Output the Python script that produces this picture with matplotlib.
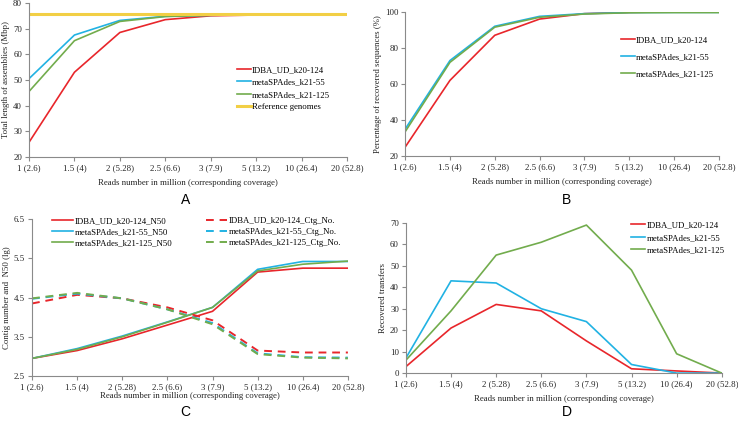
import numpy as np
import matplotlib
matplotlib.use('Agg')
import matplotlib.pyplot as plt

plt.rcParams['font.family'] = ['Liberation Serif', 'DejaVu Serif']
plt.rcParams['font.size'] = 6.3

# x categories (reads in million, coverage)
categories = ['1 (2.6)', '1.5 (4)', '2 (5.28)', '2.5 (6.6)', '3 (7.9)',
              '5 (13.2)', '10 (26.4)', '20 (52.8)']

# A: total length of assemblies (Mbp)
a_idba = [25.7, 53.0, 68.5, 73.5, 75.0, 75.3, 75.4, 75.4]
a_k55 = [50.5, 67.5, 73.2, 74.8, 75.2, 75.4, 75.4, 75.4]
a_k125 = [45.5, 65.3, 72.8, 74.7, 75.2, 75.4, 75.4, 75.4]
a_ref = [75.8] * 8

# B: percentage of recovered sequences (%)
b_idba = [25.0, 62.0, 87.0, 96.0, 99.0, 99.7, 100.0, 100.0]
b_k55 = [35.0, 73.0, 92.0, 97.5, 99.0, 99.6, 99.7, 99.7]
b_k125 = [33.5, 72.0, 91.5, 97.0, 98.8, 99.5, 99.6, 99.6]

# C: N50 and contig number (lg)
c_idba_n50 = [2.95, 3.15, 3.45, 3.80, 4.15, 5.15, 5.25, 5.25]
c_k55_n50 = [2.95, 3.20, 3.52, 3.88, 4.25, 5.22, 5.42, 5.42]
c_k125_n50 = [2.95, 3.18, 3.50, 3.87, 4.25, 5.18, 5.35, 5.43]
c_idba_ctg = [4.35, 4.57, 4.48, 4.25, 3.92, 3.15, 3.10, 3.10]
c_k55_ctg = [4.47, 4.60, 4.48, 4.20, 3.85, 3.08, 2.98, 2.97]
c_k125_ctg = [4.48, 4.62, 4.48, 4.20, 3.82, 3.06, 2.97, 2.95]

# D: recovered transfers
d_idba = [3, 21, 32, 29, 15, 2, 1, 0]
d_k55 = [7, 43, 42, 30, 24, 4, 0, 0]
d_k125 = [6, 29, 55, 61, 69, 48, 9, 0]

red = '#e8262b'
blue = '#21b2e3'
green = '#72ac4d'
yellow = '#f2cf45'
gray = '#8a8a8a'

x = np.arange(len(categories))
fig = plt.figure(figsize=(7.38, 4.23), dpi=100)


def style_axes(ax, yticks, ylabel, xpad=2.5):
    for s in ['top', 'right']:
        ax.spines[s].set_visible(False)
    for s in ['left', 'bottom']:
        ax.spines[s].set_color(gray)
        ax.spines[s].set_linewidth(0.8)
    ax.set_xticks(x)
    ax.set_xticklabels(categories)
    ax.set_xlim(0, len(categories) - 1)
    ax.set_yticks(yticks)
    ax.set_ylim(yticks[0], yticks[-1])
    ax.tick_params(colors=gray, labelcolor='#222222', length=3, width=0.8, pad=2)
    ax.set_xlabel('Reads number in million (corresponding coverage)', labelpad=xpad, color='#222222')
    ax.set_ylabel(ylabel, labelpad=2, color='#222222')


lw = 1.2
dash = (0, (4, 3))

# panel A
axA = fig.add_axes([0.0393, 0.629, 0.431, 0.364])
axA.plot(x, a_idba, color=red, lw=lw, label='IDBA_UD_k20-124')
axA.plot(x, a_k55, color=blue, lw=lw, label='metaSPAdes_k21-55')
axA.plot(x, a_k125, color=green, lw=lw, label='metaSPAdes_k21-125')
axA.plot(x, a_ref, color=yellow, lw=2.2, label='Reference genomes')
style_axes(axA, [20, 30, 40, 50, 60, 70, 80], 'Total length of assemblies (Mbp)', xpad=5)
axA.legend(loc='upper left', bbox_to_anchor=(0.64, 0.62), frameon=False,
           handlelength=1.6, handletextpad=0.1, labelspacing=0.5, borderpad=0)

# panel B
axB = fig.add_axes([0.549, 0.631, 0.425, 0.341])
axB.plot(x, b_idba, color=red, lw=lw, label='IDBA_UD_k20-124')
axB.plot(x, b_k55, color=blue, lw=lw, label='metaSPAdes_k21-55')
axB.plot(x, b_k125, color=green, lw=lw, label='metaSPAdes_k21-125')
style_axes(axB, [20, 40, 60, 80, 100], 'Percentage of recovered sequences (%)', xpad=5)
axB.legend(loc='upper left', bbox_to_anchor=(0.675, 0.86), frameon=False,
           handlelength=1.6, handletextpad=0.1, labelspacing=1.0, borderpad=0)

# panel C
axC = fig.add_axes([0.0434, 0.111, 0.428, 0.371])
axC.plot(x, c_idba_n50, color=red, lw=lw, label='IDBA_UD_k20-124_N50')
axC.plot(x, c_k55_n50, color=blue, lw=lw, label='metaSPAdes_k21-55_N50')
axC.plot(x, c_k125_n50, color=green, lw=lw, label='metaSPAdes_k21-125_N50')
axC.plot(x, c_idba_ctg, color=red, lw=1.4, ls=dash, label='IDBA_UD_k20-124_Ctg_No.')
axC.plot(x, c_k55_ctg, color=blue, lw=1.4, ls=dash, label='metaSPAdes_k21-55_Ctg_No.')
axC.plot(x, c_k125_ctg, color=green, lw=1.4, ls=dash, label='metaSPAdes_k21-125_Ctg_No.')
style_axes(axC, [2.5, 3.5, 4.5, 5.5, 6.5], 'Contig number and  N50 (lg)', xpad=1)
axC.set_yticklabels(['2.5', '3.5', '4.5', '5.5', '6.5'])
axC.legend(loc='upper left', bbox_to_anchor=(0.05, 1.04), frameon=False, ncol=2,
           handlelength=2.4, handletextpad=0.2, labelspacing=0.3, columnspacing=3.8,
           borderpad=0)

# panel D
axD = fig.add_axes([0.550, 0.118, 0.428, 0.355])
axD.plot(x, d_idba, color=red, lw=lw, label='IDBA_UD_k20-124')
axD.plot(x, d_k55, color=blue, lw=lw, label='metaSPAdes_k21-55')
axD.plot(x, d_k125, color=green, lw=lw, label='metaSPAdes_k21-125')
style_axes(axD, [0, 10, 20, 30, 40, 50, 60, 70], 'Recovered transfers', xpad=5)
axD.legend(loc='upper left', bbox_to_anchor=(0.70, 1.04), frameon=False,
           handlelength=1.6, handletextpad=0.1, labelspacing=0.5, borderpad=0)

# panel letters
for lbl, px, py in [('A', 0.251, 0.527), ('B', 0.768, 0.527),
                    ('C', 0.251, 0.026), ('D', 0.768, 0.026)]:
    fig.text(px, py, lbl, ha='center', va='center', fontsize=10,
             family=['Liberation Sans', 'DejaVu Sans'])

fig.savefig('out.png', dpi=100)
